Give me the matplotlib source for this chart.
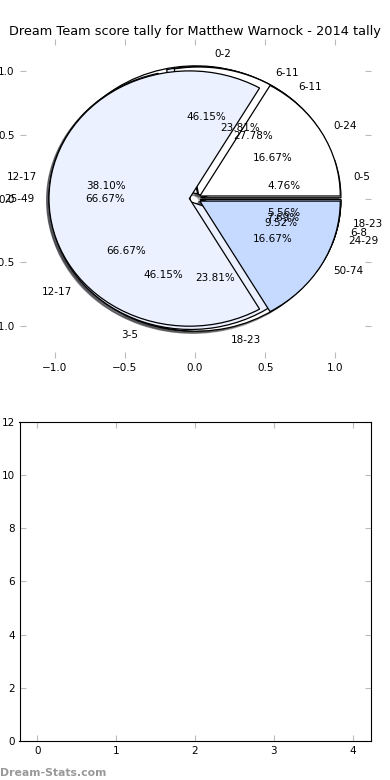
import matplotlib
matplotlib.use("Agg")
import matplotlib.pyplot as plt

# ---------- DATA ----------
TITLE = "Dream Team score tally for Matthew Warnock - 2014 tally"

labels_a = ["0-2", "3-5", "6-8"]
values_a = [6, 6, 1]

labels_b = ["0-5", "6-11", "12-17", "18-23", "24-29"]
values_b = [1, 5, 8, 5, 2]

labels_c = ["6-11", "12-17", "18-23"]
values_c = [5, 12, 1]

labels_d = ["0-24", "25-49", "50-74"]
values_d = [1, 4, 1]

pie_ticks = [-1.0, -0.5, 0.0, 0.5, 1.0]
bar_xticks = [0, 1, 2, 3, 4]
bar_yticks = [0, 2, 4, 6, 8, 10, 12]
# --------------------------

COLORS = ["#ffffff", "#ebf1ff", "#c6daff", "#ffffff", "#ebf1ff"]
EXPLODE = 0.04
TICK_GREY = "#bbbbbb"


def draw_pie(ax, values, labels):
    ax.pie(values, labels=labels, colors=COLORS[:len(values)],
           explode=[EXPLODE] * len(values), autopct="%1.2f%%",
           shadow={"ox": -0.012, "oy": -0.012}, startangle=0,
           wedgeprops={"edgecolor": "black", "linewidth": 0.9},
           textprops={"fontsize": 7.5})


fig = plt.figure(figsize=(3.9, 7.8), dpi=100)
fig.subplots_adjust(left=0.05, right=0.95, bottom=0.05, top=0.95, hspace=0.2)
ax1 = fig.add_subplot(2, 1, 1)
ax2 = fig.add_subplot(2, 1, 2)

for vals, labs in [(values_a, labels_a), (values_b, labels_b),
                   (values_c, labels_c), (values_d, labels_d)]:
    draw_pie(ax1, vals, labs)

ax1.set_aspect("auto")
ax1.set_xlim(-1.25, 1.25)
ax1.set_ylim(-1.25, 1.25)
ax1.set_frame_on(False)
ax1.set_xticks(pie_ticks)
ax1.set_yticks(pie_ticks)
ax1.tick_params(direction="in", length=4, color=TICK_GREY, labelsize=7.5,
                top=True, right=True)
ax1.set_title(TITLE, fontsize=9.3, pad=3)

# --- bottom (empty) chart ---
ax2.set_xlim(-0.225, 4.225)
ax2.set_ylim(0, 12)
ax2.set_xticks(bar_xticks)
ax2.set_yticks(bar_yticks)
ax2.tick_params(direction="in", length=4, color=TICK_GREY, labelsize=7.5,
                top=True, right=True)

fig.text(0.0, 0.003, "Dream-Stats.com", color="#999999", fontsize=7.8,
         fontweight="bold", ha="left", va="bottom")

fig.savefig("out.png", dpi=100)
